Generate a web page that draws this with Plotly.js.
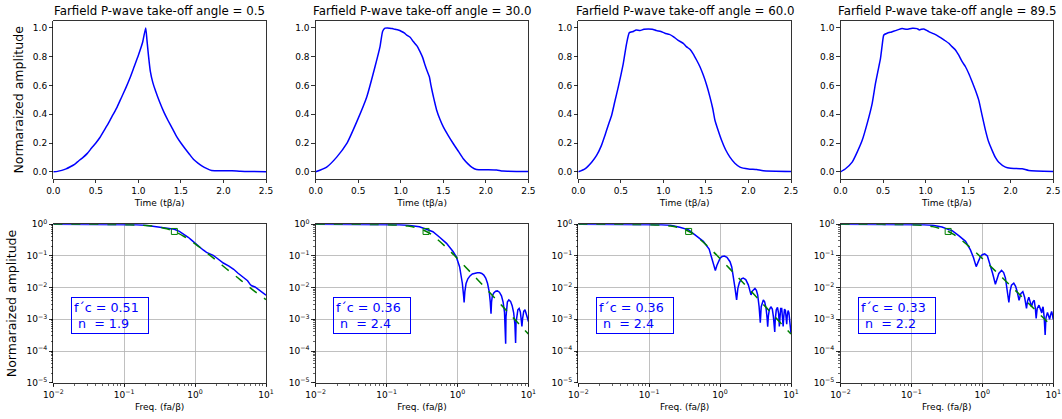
<!DOCTYPE html>
<html>
<head>
<meta charset="utf-8">
<script src="https://cdn.plot.ly/plotly-3.0.1.min.js"></script>
<style>html,body{margin:0;padding:0;background:#fff}#chart{width:1062px;height:419px}</style>
</head>
<body>
<div id="chart"></div>
<script>
// ---------- data ----------
const angles = ['0.5', '30.0', '60.0', '89.5'];
const fcText = ['0.51', '0.36', '0.36', '0.33'];
const nText = ['1.9', '2.4', '2.4', '2.2'];
const fcFreq = [0.51, 0.36, 0.36, 0.33];
const fcAmp = [0.595, 0.595, 0.595, 0.595];

// time-domain pulses
const time1 = [0,0.05,0.1,0.15,0.2,0.25,0.3,0.35,0.4,0.45,0.5,0.55,0.6,0.65,0.7,0.75,0.8,0.85,0.9,0.95,1.0,1.05,1.086,1.10,1.12,1.14,1.17,1.2,1.25,1.3,1.35,1.4,1.45,1.5,1.55,1.6,1.65,1.7,1.75,1.8,1.86,1.9,2.0,2.1,2.2,2.3,2.5];
const amp1 = [0,0.003,0.01,0.02,0.035,0.052,0.077,0.1,0.128,0.165,0.2,0.24,0.29,0.34,0.395,0.45,0.515,0.58,0.65,0.73,0.81,0.9,1.0,0.92,0.80,0.70,0.62,0.565,0.485,0.415,0.355,0.3,0.245,0.2,0.16,0.122,0.085,0.06,0.04,0.024,0.009,0.008,0.008,0.008,0.004,0.002,0.001];

const time2 = [0,0.129,0.247,0.364,0.482,0.6,0.697,0.756,0.787,0.815,0.845,0.873,0.9,0.932,0.97,1.01,1.04,1.07,1.11,1.147,1.19,1.226,1.26,1.285,1.31,1.336,1.355,1.375,1.4,1.422,1.46,1.5,1.56,1.618,1.68,1.735,1.79,1.833,1.89,2.0,2.127,2.2,2.5];
const amp2 = [0,0.033,0.102,0.195,0.347,0.52,0.73,0.87,0.977,0.998,1.0,0.997,0.995,0.99,0.985,0.975,0.965,0.95,0.935,0.905,0.875,0.835,0.79,0.742,0.70,0.66,0.6,0.544,0.48,0.428,0.365,0.312,0.25,0.195,0.14,0.091,0.055,0.033,0.016,0.014,0.012,0.005,0.002];

const time3 = [0,0.078,0.157,0.215,0.27,0.313,0.35,0.392,0.43,0.47,0.5,0.529,0.55,0.568,0.6,0.646,0.68,0.725,0.77,0.823,0.87,0.92,0.97,1.018,1.07,1.116,1.17,1.234,1.27,1.312,1.35,1.39,1.43,1.469,1.51,1.547,1.58,1.606,1.645,1.684,1.73,1.782,1.84,1.9,2.0,2.096,2.174,2.5];
const amp3 = [0,0.021,0.067,0.114,0.18,0.253,0.32,0.393,0.49,0.59,0.67,0.753,0.83,0.893,0.967,0.975,0.985,0.982,0.99,0.993,0.99,0.981,0.975,0.963,0.955,0.94,0.915,0.893,0.87,0.851,0.82,0.777,0.73,0.672,0.6,0.521,0.44,0.358,0.285,0.219,0.155,0.102,0.06,0.033,0.02,0.016,0.007,0.002];

const time4 = [0,0.059,0.137,0.196,0.255,0.313,0.372,0.411,0.44,0.47,0.49,0.509,0.548,0.6,0.646,0.68,0.725,0.78,0.842,0.9,0.928,0.95,0.979,1.038,1.1,1.156,1.22,1.273,1.31,1.351,1.39,1.43,1.469,1.51,1.547,1.59,1.625,1.665,1.704,1.74,1.782,1.82,1.86,1.939,2.0,2.135,2.213,2.5];
const amp4 = [0,0.021,0.067,0.137,0.219,0.335,0.474,0.614,0.70,0.788,0.88,0.951,0.963,0.972,0.981,0.988,0.995,0.99,0.998,0.995,0.986,0.99,0.993,0.974,0.958,0.94,0.915,0.893,0.87,0.847,0.81,0.765,0.73,0.68,0.626,0.56,0.498,0.39,0.288,0.21,0.149,0.1,0.067,0.033,0.025,0.021,0.009,0.002];

// amplitude spectra
const freq1 = [0.01,0.02,0.05,0.1,0.15,0.2,0.3,0.4,0.51,0.6,0.7,0.8,0.9,1.0,1.17,1.3,1.45,1.6,1.8,2.0,2.5,3.0,3.5,4.0,4.5,5.0,5.5,6.0,6.3,7.0,8.0,9.0,10.0];
const spec1 = [1.0,0.999,0.995,0.985,0.965,0.93,0.84,0.77,0.70,0.60,0.49,0.39,0.31,0.25,0.19,0.155,0.13,0.118,0.105,0.088,0.06,0.048,0.038,0.029,0.024,0.020,0.0165,0.0125,0.0115,0.0105,0.0085,0.0068,0.0058];

const freq2 = [0.01,0.05,0.1,0.15,0.2,0.29,0.356,0.45,0.56,0.7,0.865,0.96,1.07,1.17,1.22,1.24,1.27,1.32,1.4,1.5,1.62,1.75,1.9,2.06,2.2,2.35,2.5,2.65,2.8,2.9,2.97,3.02,3.1,3.25,3.45,3.65,3.9,4.17,4.4,4.6,4.72,4.78,4.83,4.92,5.05,5.3,5.6,5.9,6.2,6.45,6.6,6.7,6.85,7.1,7.4,7.7,7.95,8.1,8.3,8.6,8.95,9.3,9.7,10.0];
const spec2 = [1.0,0.998,0.99,0.97,0.93,0.84,0.71,0.585,0.39,0.25,0.138,0.095,0.046,0.0138,0.0055,0.0034,0.0075,0.0135,0.019,0.0235,0.027,0.0288,0.0297,0.0295,0.028,0.025,0.02,0.0138,0.0075,0.0035,0.0015,0.0035,0.0055,0.0068,0.0077,0.0079,0.0072,0.0055,0.0035,0.0017,0.0006,0.00017,0.0012,0.0024,0.0035,0.0041,0.0037,0.0027,0.0016,0.0007,0.00018,0.0008,0.0014,0.002,0.0022,0.0017,0.0009,0.0006,0.0011,0.0018,0.002,0.0016,0.0011,0.00085];

const freq3 = [0.01,0.05,0.1,0.15,0.2,0.27,0.36,0.47,0.58,0.70,0.785,0.857,0.9,0.94,1.0,1.07,1.15,1.25,1.38,1.46,1.54,1.62,1.71,1.78,1.87,2.0,2.12,2.3,2.5,2.62,2.73,2.85,3.0,3.1,3.25,3.39,3.55,3.69,3.8,3.95,4.07,4.25,4.45,4.6,4.69,4.8,4.95,5.2,5.45,5.65,5.8,5.9,6.0,6.2,6.45,6.7,6.85,6.95,7.15,7.4,7.6,7.75,7.9,8.1,8.35,8.55,8.7,8.85,9.1,9.35,9.6,9.8,10.0];
const spec3 = [1.0,0.997,0.985,0.96,0.93,0.81,0.67,0.43,0.29,0.165,0.075,0.035,0.05,0.066,0.085,0.096,0.1,0.09,0.066,0.045,0.0224,0.01,0.0041,0.0095,0.0145,0.019,0.02,0.018,0.0123,0.0085,0.0059,0.0078,0.0093,0.0095,0.0082,0.0059,0.0025,0.00078,0.0025,0.0038,0.0041,0.0036,0.0022,0.0011,0.00059,0.0013,0.002,0.0025,0.0021,0.0012,0.0006,0.0004,0.001,0.002,0.0024,0.0015,0.0006,0.001,0.0022,0.0022,0.0011,0.0006,0.0012,0.0021,0.0019,0.0009,0.0007,0.0013,0.0019,0.0016,0.0008,0.0004,0.00036];

const freq4 = [0.01,0.05,0.1,0.15,0.2,0.27,0.337,0.376,0.47,0.58,0.68,0.75,0.82,0.88,0.94,1.0,1.08,1.18,1.28,1.4,1.53,1.6,1.71,1.87,2.0,2.12,2.25,2.37,2.47,2.58,2.78,2.95,3.1,3.2,3.3,3.5,3.73,3.95,4.1,4.2,4.35,4.53,4.75,4.94,5.15,5.4,5.6,5.75,5.95,6.3,6.6,6.9,7.05,7.2,7.45,7.7,7.9,8.3,8.6,8.9,9.2,9.5,9.75,10.0];
const spec4 = [1.0,0.997,0.985,0.96,0.93,0.82,0.68,0.63,0.43,0.29,0.155,0.09,0.046,0.07,0.095,0.11,0.117,0.1,0.059,0.028,0.0128,0.018,0.028,0.035,0.03,0.02,0.009,0.0034,0.008,0.012,0.0138,0.011,0.0076,0.0055,0.004,0.0065,0.0075,0.005,0.0028,0.0022,0.0038,0.005,0.0035,0.0025,0.0035,0.004,0.0022,0.00107,0.0022,0.0028,0.0021,0.0016,0.0022,0.0025,0.0012,0.00032,0.0011,0.00166,0.0013,0.001,0.0014,0.00178,0.0014,0.001];

// fitted source models (green dashed)
const fitFreq = [0.01,0.02,0.03,0.05,0.07,0.1,0.15,0.2,0.3,0.4,0.5,0.7,1,1.5,2,3,4,5,7,10];
const fit1 = [0.9997,0.999,0.9977,0.994,0.9886,0.9776,0.952,0.918,0.83,0.72,0.605,0.412,0.242,0.121,0.072,0.034,0.0205,0.0137,0.0075,0.0042];
const fit2 = [0.9999,0.9995,0.9987,0.9956,0.9903,0.9771,0.9404,0.8838,0.7147,0.53,0.3597,0.1833,0.0825,0.032,0.0162,0.00615,0.0031,0.00181,0.000807,0.000343];
const fit3 = [0.9999,0.9995,0.9987,0.9956,0.9903,0.9771,0.9404,0.8838,0.7147,0.53,0.3597,0.1833,0.0825,0.032,0.0162,0.00615,0.0031,0.00181,0.000807,0.000343];
const fit4 = [0.9998,0.999,0.9975,0.9922,0.9836,0.9645,0.915,0.844,0.655,0.47,0.326,0.1736,0.0835,0.0351,0.0188,0.00776,0.00412,0.00252,0.0012,0.00055];

const logTickVals = [1e-5, 1e-4, 1e-3, 1e-2, 1e-1, 1];
const logTickText = ['10<sup>\u22125</sup>','10<sup>\u22124</sup>','10<sup>\u22123</sup>','10<sup>\u22122</sup>','10<sup>\u22121</sup>','10<sup>0</sup>'];
const freqTickVals = [0.01, 0.1, 1, 10];
const freqTickText = ['10<sup>\u22122</sup>','10<sup>\u22121</sup>','10<sup>0</sup>','10<sup>1</sup>'];

// ---------- build ----------
const times = [time1, time2, time3, time4];
const amps = [amp1, amp2, amp3, amp4];
const freqs = [freq1, freq2, freq3, freq4];
const specs = [spec1, spec2, spec3, spec4];
const fits = [fit1, fit2, fit3, fit4];

const W = 1062, H = 419;
const lefts = [53.3, 315.7, 578.3, 840.5];
const pw = 212.7;
const topDom = [1 - 179 / H, 1 - 20.7 / H];
const botDom = [1 - 382.7 / H, 1 - 224.3 / H];
const FONT = 'DejaVu Sans, Liberation Sans, sans-serif';

const data = [];
const layout = {
  width: W, height: H,
  margin: {l: 0, r: 0, t: 0, b: 0},
  paper_bgcolor: '#fff', plot_bgcolor: '#fff',
  showlegend: false,
  font: {family: FONT, size: 9, color: '#000'},
  annotations: []
};

const axCommon = {
  showline: true, mirror: true, linecolor: '#000', linewidth: 0.8,
  ticks: 'outside', ticklen: 3.5, tickwidth: 0.8, tickcolor: '#000',
  zeroline: false, tickfont: {family: FONT, size: 9, color: '#000'}
};

for (let i = 0; i < 4; i++) {
  const xt = i + 1, xb = i + 5;
  const dom = [lefts[i] / W, (lefts[i] + pw) / W];
  // top: time pulse
  data.push({x: times[i], y: amps[i], type: 'scatter', mode: 'lines',
    line: {color: '#0000ff', width: 1.5, shape: 'spline', smoothing: 0.5}, xaxis: 'x' + xt, yaxis: 'y' + xt});
  // bottom: spectrum, fit, corner
  data.push({x: freqs[i], y: specs[i], type: 'scatter', mode: 'lines',
    line: {color: '#0000ff', width: 1.5}, xaxis: 'x' + xb, yaxis: 'y' + xb});
  data.push({x: fitFreq, y: fits[i], type: 'scatter', mode: 'lines',
    line: {color: '#008000', width: 1.5, dash: 'dash', shape: 'spline'}, xaxis: 'x' + xb, yaxis: 'y' + xb});
  data.push({x: [fcFreq[i]], y: [fcAmp[i]], type: 'scatter', mode: 'markers',
    marker: {symbol: 'square-open', size: 6, color: '#008000', line: {width: 1, color: '#008000'}},
    xaxis: 'x' + xb, yaxis: 'y' + xb});

  const sfx = xt === 1 ? '' : String(xt);
  const sfxb = String(xb);
  layout['xaxis' + sfx] = Object.assign({}, axCommon, {
    domain: dom, anchor: 'y' + sfx, range: [0, 2.5], tickvals: [0, 0.5, 1, 1.5, 2, 2.5],
    tickformat: '.1f', showgrid: false,
    title: {text: 'Time (t\u03b2/a)', font: {family: FONT, size: 9, color: '#000'}, standoff: 4}
  });
  layout['yaxis' + sfx] = Object.assign({}, axCommon, {
    domain: topDom, anchor: 'x' + sfx, range: [-0.05, 1.05], tickvals: [0, 0.2, 0.4, 0.6, 0.8, 1.0],
    tickformat: '.1f', showgrid: false,
    title: i === 0 ? {text: 'Normaraized amplitude', font: {family: FONT, size: 12.5, color: '#000'}, standoff: 6} : {text: ''}
  });
  layout['xaxis' + sfxb] = Object.assign({}, axCommon, {
    domain: dom, anchor: 'y' + sfxb, type: 'log', range: [-2, 1],
    tickvals: freqTickVals, ticktext: freqTickText,
    showgrid: true, gridcolor: '#b0b0b0', gridwidth: 0.8,
    minor: {ticks: 'outside', ticklen: 2, tickwidth: 0.6, tickcolor: '#000', dtick: 'D1', showgrid: false},
    title: {text: 'Freq. (fa/\u03b2)', font: {family: FONT, size: 9, color: '#000'}, standoff: 4}
  });
  layout['yaxis' + sfxb] = Object.assign({}, axCommon, {
    domain: botDom, anchor: 'x' + sfxb, type: 'log', range: [-5, 0],
    tickvals: logTickVals, ticktext: logTickText,
    showgrid: true, gridcolor: '#b0b0b0', gridwidth: 0.8,
    minor: {ticks: 'outside', ticklen: 2, tickwidth: 0.6, tickcolor: '#000', dtick: 'D1', showgrid: false},
    title: i === 0 ? {text: 'Normaraized amplitude', font: {family: FONT, size: 12.5, color: '#000'}, standoff: 6} : {text: ''}
  });

  // panel title
  layout.annotations.push({
    text: 'Farfield P-wave take-off angle = ' + angles[i],
    xref: 'paper', yref: 'paper', x: (lefts[i] + pw / 2) / W, y: 1 - 11 / H,
    xanchor: 'center', yanchor: 'middle', showarrow: false,
    font: {family: FONT, size: 11.8, color: '#000'}
  });
  // fc / n box
  layout.annotations.push({
    text: 'f\u00b4c = ' + fcText[i] + '<br>\u00a0n\u00a0 = ' + nText[i],
    xref: 'x' + xb + ' domain', yref: 'y' + xb + ' domain', x: 0.082, y: 0.426,
    xanchor: 'left', yanchor: 'middle', align: 'left', showarrow: false,
    width: 72, height: 31,
    font: {family: FONT, size: 12.7, color: '#0000ff'},
    bordercolor: '#0000ff', borderwidth: 1, borderpad: 2, bgcolor: 'rgba(255,255,255,0)'
  });
}

Plotly.newPlot('chart', data, layout, {staticPlot: true, displayModeBar: false});
</script>
</body>
</html>
